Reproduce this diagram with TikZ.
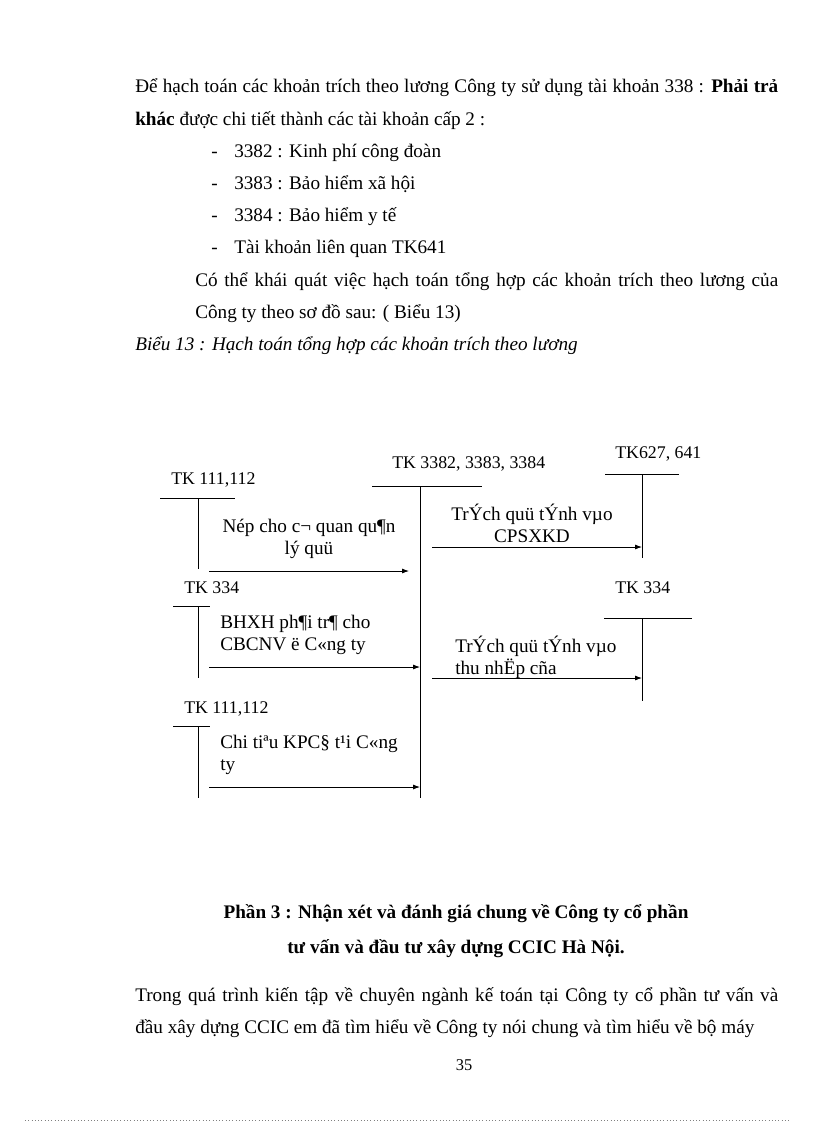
\documentclass[tikz,border=0pt]{standalone}
\usepackage{fontspec}
\setmainfont{Liberation Serif}
\usetikzlibrary{arrows.meta}

\begin{document}
\begin{tikzpicture}[
    x=0.7295pt, y=-0.7295pt,
    every node/.style={inner sep=0pt, font=\fontsize{14}{17}\selectfont},
    body/.style={anchor=base west},
    acct/.style={anchor=base west, font=\fontsize{13}{15}\selectfont},
    lbl/.style={anchor=base west, align=left, font=\fontsize{14}{15.4}\selectfont},
    tline/.style={line width=0.6pt},
    arrow/.style={-{Latex[length=5pt,width=3.6pt]}, line width=0.6pt}
]
\useasboundingbox (0,0) rectangle (816,1123);

% text above the diagram
\node[body] (p1) at (135,92) {\makebox[469.1pt][s]{Để hạch toán các khoản trích theo lương Công ty sử dụng tài khoản 338 : \textbf{Phải trả}}};
\node[body] (p2) at (135,125) {\textbf{khác} được chi tiết thành các tài khoản cấp 2 :};
\node[body] (d1) at (211,157) {-};
\node[body] (b1) at (234,157) {3382 : Kinh phí công đoàn};
\node[body] (d2) at (211,189) {-};
\node[body] (b2) at (234,189) {3383 : Bảo hiểm xã hội};
\node[body] (d3) at (211,221) {-};
\node[body] (b3) at (234,221) {3384 : Bảo hiểm y tế};
\node[body] (d4) at (211,253) {-};
\node[body] (b4) at (234,253) {Tài khoản liên quan TK641};
\node[body] (p3) at (195,286) {\makebox[425.3pt][s]{Có thể khái quát việc hạch toán tổng hợp các khoản trích theo lương của}};
\node[body] (p4) at (195,318) {Công ty theo sơ đồ sau: ( Biểu 13)};
\node[body, font=\fontsize{14}{17}\selectfont\itshape] (cap) at (135,350) {Biểu 13 : Hạch toán tổng hợp các khoản trích theo lương};

% T accounts
\node[acct] (tk111) at (171,484) {TK 111,112};
\draw[tline] (160,498) -- (235,498);
\draw[tline] (198,498) coordinate (v111) -- (198,569);

\node[acct] (tk338) at (392,468) {TK 3382, 3383, 3384};
\draw[tline] (372,486) -- (482,486);
\draw[tline] (420,486) coordinate (v338) -- (420,798);

\node[acct] (tk627) at (615,458) {TK627, 641};
\draw[tline] (605,474) -- (679,474);
\draw[tline] (642,474) coordinate (v627) -- (642,558);

\node[acct] (tk334a) at (184,593) {TK 334};
\draw[tline] (173,606) -- (210,606);
\draw[tline] (198,606) coordinate (v334a) -- (198,678);

\node[acct] (tk334b) at (615,593) {TK 334};
\draw[tline] (604,618) -- (692,618);
\draw[tline] (642,618) coordinate (v334b) -- (642,701);

\node[acct] (tk111b) at (184,713) {TK 111,112};
\draw[tline] (173,726) -- (210,726);
\draw[tline] (198,726) coordinate (v111b) -- (198,798);

% entries
\coordinate (s1) at (209,571);
\coordinate (e1) at (409,571);
\draw[arrow] (s1) -- (e1);
\node[lbl, anchor=base, align=center] (l1) at (309,554) {Nép cho c¬ quan qu¶n\\lý quü};

\coordinate (s2) at (432,547);
\coordinate (e2) at (642,547);
\draw[arrow] (s2) -- (e2);
\node[lbl, anchor=base, align=center] (l2) at (532,542) {TrÝch quü tÝnh vµo\\CPSXKD};

\coordinate (s3) at (209,667);
\coordinate (e3) at (420,667);
\draw[arrow] (s3) -- (e3);
\node[lbl] (l3) at (220,650) {BHXH ph¶i tr¶ cho\\CBCNV ë C«ng ty};

\coordinate (s4) at (432,678);
\coordinate (e4) at (642,678);
\draw[arrow] (s4) -- (e4);
\node[lbl] (l4) at (455,674) {TrÝch quü tÝnh vµo\\thu nhËp cña};

\coordinate (s5) at (209,787);
\coordinate (e5) at (420,787);
\draw[arrow] (s5) -- (e5);
\node[lbl] (l5) at (220,770) {Chi tiªu KPC§ t¹i C«ng\\ty};

% text below the diagram
\node[body, anchor=base, font=\fontsize{14}{17}\selectfont\bfseries] (h1) at (456,918) {Phần 3 : Nhận xét và đánh giá chung về Công ty cổ phần};
\node[body, anchor=base, font=\fontsize{14}{17}\selectfont\bfseries] (h2) at (456,953) {tư vấn và đầu tư xây dựng CCIC Hà Nội.};
\node[body] (p5) at (135,1001) {\makebox[469.1pt][s]{Trong quá trình kiến tập về chuyên ngành kế toán tại Công ty cổ phần tư vấn và}};
\node[body] (p6) at (135,1033) {đầu xây dựng CCIC em đã tìm hiểu về Công ty nói chung và tìm hiểu về bộ máy};
\node[body, anchor=base, font=\fontsize{12}{14}\selectfont] (pg) at (464,1070) {35};

\draw[gray, dotted, line width=0.4pt] (25,1120) -- (790,1120);
\end{tikzpicture}
\end{document}
